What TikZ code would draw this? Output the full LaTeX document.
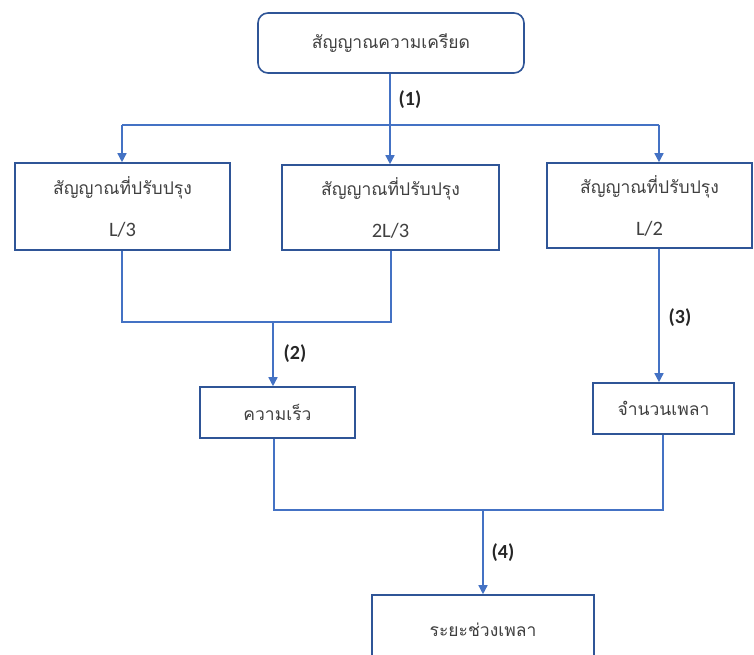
\documentclass[tikz,border=0pt]{standalone}
\usepackage{fontspec}
\setmainfont{Carlito}
\newfontfamily\thaifont[Script=Thai]{Loma}
\usetikzlibrary{arrows.meta,positioning}
\definecolor{lineblue}{HTML}{4472C4}
\definecolor{boxblue}{HTML}{2F5597}
\definecolor{txtgray}{HTML}{404040}
\newcommand{\thtxt}[1]{{\fontsize{17.5}{24}\thaifont #1}}
\tikzset{
  box/.style={draw=boxblue,line width=1.6pt,inner sep=0pt,align=center,
    text=txtgray,font=\fontsize{20.5}{24}\selectfont},
  link/.style={draw=lineblue,line width=1.5pt},
  steplabel/.style={font=\fontsize{20}{24}\selectfont\bfseries,text=black!85}
}
\begin{document}
\begin{tikzpicture}[x=1pt,y=-1pt,>={Triangle[width=9pt,length=9pt]}]
  \clip (0,0) rectangle (754,655);
  \node[box,rounded corners=10pt,minimum width=266,minimum height=60] (stress) at (391,43) {\thtxt{สัญญาณความเครียด}};
  \node[box,minimum width=215,minimum height=87] (third) at (122.5,206.5)
    {\thtxt{สัญญาณที่ปรับปรุง}\\[18pt] L/3};
  \node[box,minimum width=217,minimum height=85] (twothird) at (390.5,207.5)
    {\thtxt{สัญญาณที่ปรับปรุง}\\[18pt] 2L/3};
  \node[box,minimum width=205,minimum height=85] (half) at (649.5,205.5)
    {\thtxt{สัญญาณที่ปรับปรุง}\\[18pt] L/2};
  \node[box,minimum width=155,minimum height=51] (speed) at (277.5,412.5) {\thtxt{ความเร็ว}};
  \node[box,minimum width=141,minimum height=51] (shafts) at (663.5,408.5) {\thtxt{จำนวนเพลา}};
  \node[box,minimum width=222,minimum height=70] (spacing) at (483,630) {\thtxt{ระยะช่วงเพลา}};

  % (1) split to the three signals
  \coordinate (busA) at (122,125);
  \coordinate (busB) at (659,125);
  \coordinate (busM) at (390,125);
  \draw[link] (busM |- stress.south) -- (busM);
  \draw[link] (busA) -- (busB);
  \draw[link,->] (busA) -- (busA |- third.north);
  \draw[link,->] (busM) -- (busM |- twothird.north);
  \draw[link,->] (busB) -- (busB |- half.north);
  \node[steplabel] (lab1) at (410,100) {(1)};

  % (2) L/3 + 2L/3 -> speed
  \coordinate (joinA) at (122,322);
  \coordinate (joinB) at (391,322);
  \coordinate (joinM) at (273,322);
  \draw[link] (joinA |- third.south) -- (joinA) -- (joinB) -- (joinB |- twothird.south);
  \draw[link,->] (joinM) -- (joinM |- speed.north);
  \node[steplabel] (lab2) at (295,354) {(2)};

  % (3) L/2 -> number of shafts
  \draw[link,->] (busB |- half.south) -- (busB |- shafts.north);
  \node[steplabel] (lab3) at (680,318) {(3)};

  % (4) speed + shafts -> spacing
  \coordinate (joinC) at (274,510);
  \coordinate (joinD) at (663,510);
  \coordinate (joinE) at (483,510);
  \draw[link] (joinC |- speed.south) -- (joinC) -- (joinD) -- (joinD |- shafts.south);
  \draw[link,->] (joinE) -- (joinE |- spacing.north);
  \node[steplabel] (lab4) at (503,553) {(4)};
\end{tikzpicture}
\end{document}
